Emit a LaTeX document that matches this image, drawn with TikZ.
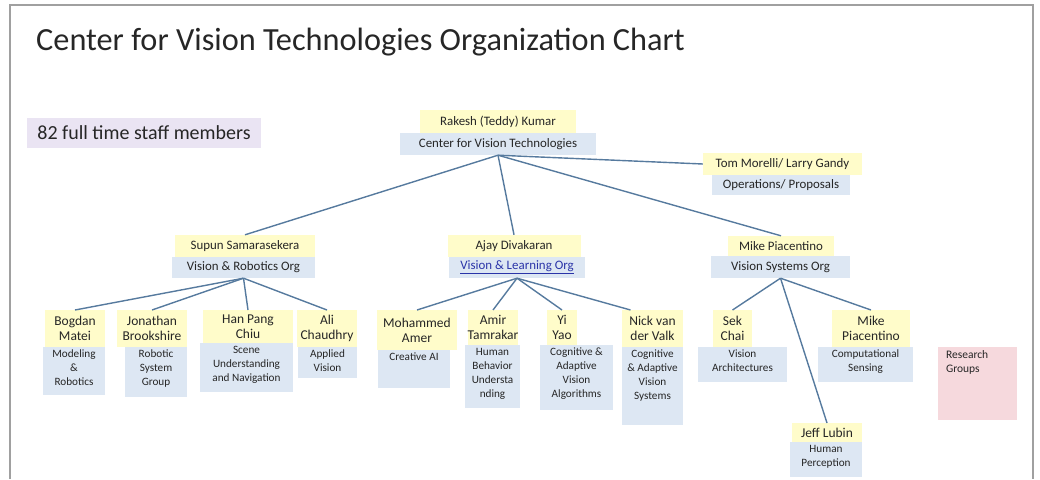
\documentclass[tikz,border=0pt]{standalone}
\usepackage{fontspec}
\setmainfont{Carlito}

\definecolor{whoyellow}{RGB}{255,252,202}
\definecolor{unitblue}{RGB}{221,231,243}
\definecolor{staffpurple}{RGB}{234,228,243}
\definecolor{grouppink}{RGB}{246,217,221}
\definecolor{linkblue}{RGB}{86,122,158}
\definecolor{ink}{RGB}{38,38,38}
\definecolor{urlblue}{RGB}{42,52,168}
\definecolor{framegray}{RGB}{160,160,160}

\begin{document}
\begin{tikzpicture}[x=1pt, y=-1pt,
  box/.style={inner sep=0pt, text=ink, align=center},
  who/.style={box, fill=whoyellow, font=\fontsize{12.9}{15}\selectfont},
  unit/.style={box, fill=unitblue, font=\fontsize{12.9}{15}\selectfont},
  leafwho/.style={box, fill=whoyellow, font=\fontsize{13.5}{15}\selectfont, anchor=north},
  leafunit/.style={box, fill=unitblue, anchor=north},
  unittext/.style={box, font=\fontsize{11.2}{14}\selectfont, anchor=north, yshift=-3pt},
  link/.style={draw=linkblue, line width=1.4pt}]
  \useasboundingbox (0,0) rectangle (1040,479);
  \draw[framegray, line width=2.5pt] (10,479) |- (1033,5) -- (1033,479);

  \node[anchor=base west, inner sep=0pt, text=ink, font=\fontsize{32.3}{36}\selectfont]
    (title) at (36,50) {Center for Vision Technologies Organization Chart};
  \node[box, fill=staffpurple, minimum width=234, minimum height=30, font=\fontsize{20}{24}\selectfont]
    (staff) at (144,133) {82 full time staff members};

  % director and the three orgs
  \node[who, minimum width=156, minimum height=23] (rk) at (498,121.5) {Rakesh (Teddy) Kumar};
  \node[unit, minimum width=196, minimum height=22] (cvt) at (498,144) {Center for Vision Technologies};
  \node[who, minimum width=159, minimum height=22] (tm) at (782.5,164) {Tom Morelli/ Larry Gandy};
  \node[unit, minimum width=138, minimum height=20] (ops) at (781,185) {Operations/ Proposals};

  \node[who, minimum width=140, minimum height=22] (ss) at (245,246) {Supun Samarasekera};
  \node[unit, minimum width=143, minimum height=21] (vro) at (243.5,267.5) {Vision \& Robotics Org};
  \node[who, minimum width=133, minimum height=22] (ad) at (514,246) {Ajay Divakaran};
  \node[unit, minimum width=136, minimum height=21, text=urlblue] (vlo) at (517,267.5) {\underline{Vision \& Learning Org}};
  \node[who, minimum width=106, minimum height=20] (mike) at (781,246) {Mike Piacentino};
  \node[unit, minimum width=139, minimum height=22] (vso) at (780.5,267) {Vision Systems Org};

  % research groups: name on yellow, group on blue
  \foreach \id/\x/\y/\w/\h/\nm/\ux/\uw/\uh/\ds in {
    bm/75/310/60/37/{Bogdan\\Matei}/74/62/48/{Modeling\\\&\\Robotics},
    jb/152/310/70/37/{Jonathan\\Brookshire}/156/62/50/{Robotic\\System\\Group},
    hp/248/310/90/33/{Han Pang\\Chiu}/246.5/93/49/{Scene\\Understanding\\and Navigation},
    ac/327/310/60/37/{Ali\\Chaudhry}/327.5/59/31/{Applied\\Vision},
    ma/417/310/80/40/{Mohammed\\Amer}/414/72/38/{Creative AI},
    at/493/310/50/35/{Amir\\Tamrakar}/492.5/55/63/{Human\\Behavior\\Understa\\nding},
    yy/562/310/30/35/{Yi\\Yao}/576.5/73/65/{Cognitive \&\\Adaptive\\Vision\\Algorithms},
    nv/652.5/310/61/37/{Nick van\\der Valk}/652.5/61/78/{Cognitive\\\& Adaptive\\Vision\\Systems},
    sc/732.5/310/39/37/{Sek\\Chai}/742.5/89/35/{Vision\\Architectures},
    mp/871/310/78/37/{Mike\\Piacentino}/865.5/95/35/{Computational\\Sensing},
    jl/827/423/70/19/{Jeff Lubin}/826/72/35/{Human\\Perception}} {
    \node[leafwho, minimum width=\w, minimum height=\h] (\id) at (\x,\y) {\nm};
    \node[leafunit, minimum width=\uw, minimum height=\uh] (\id-u) at (\ux,\y+\h) {};
    \node[unittext] at (\id-u.north) {\ds};
  }

  \node[box, fill=grouppink, minimum width=79, minimum height=73] (rg) at (977.5,383.5) {};
  \node[box, align=left, anchor=north west, font=\fontsize{11.5}{14}\selectfont]
    at ([xshift=8pt, yshift=-4pt]rg.north west) {Research\\Groups};

  % connectors
  \draw[link] (cvt.south) -- (tm.west);
  \foreach \c in {ss,ad,mike}
    \draw[link] (cvt.south) -- (\c.north);
  \foreach \c in {bm,jb,hp,ac}
    \draw[link] (vro.south) -- (\c.north);
  \foreach \c in {ma,at,yy}
    \draw[link] (vlo.south) -- (\c.north);
  \draw[link] (vlo.south) -- ([xshift=-22pt]nv.north);
  \foreach \c in {sc,jl,mp}
    \draw[link] (vso.south) -- (\c.north);
\end{tikzpicture}
\end{document}
